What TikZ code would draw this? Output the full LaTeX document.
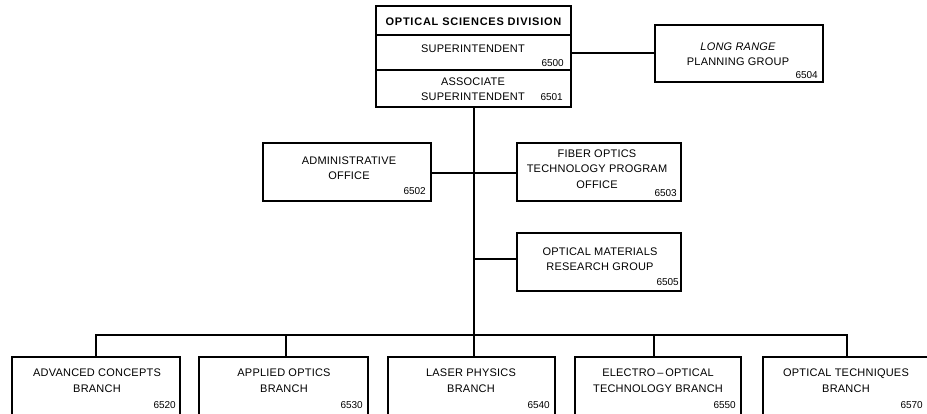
\documentclass[tikz,border=0pt]{standalone}
\usepackage{fontspec}
\setmainfont{Liberation Sans}
\usetikzlibrary{fit}
\begin{document}
\begin{tikzpicture}[x=1pt,y=-1pt,
  box/.style={draw=black, line width=1.6pt, inner sep=0pt, fill=none},
  lbl/.style={inner sep=0pt, align=center, font=\fontsize{11}{15.5}\selectfont\addfontfeatures{LetterSpace=2}},
  num/.style={inner sep=0pt, anchor=east, font=\fontsize{10}{12}\selectfont},
  conn/.style={line width=2.7pt}]
\useasboundingbox (0,0) rectangle (927,413);

% top box
\node[box, fit={(376,6)(571,107)}] (top) {};
\node[box, fit={(376,6)(571,35)}] (title) {};
\node[box, fit={(376,35)(571,70)}] (sup) {};
\node[box, fit={(376,70)(571,107)}] (asup) {};
\node[lbl, font=\fontsize{11}{14}\selectfont\bfseries\addfontfeatures{LetterSpace=7}] (titletxt) at (473.5,21.5) {OPTICAL SCIENCES DIVISION};
\node[lbl] (suptxt) at (473,49) {SUPERINTENDENT};
\node[num] (n6500) at (564,63) {6500};
\node[lbl] (asuptxt) at (473,89) {ASSOCIATE\\SUPERINTENDENT};
\node[num] (n6501) at (563,97.5) {6501};

% long range planning
\node[box, fit={(655,25)(823,82)}] (lr) {};
\node[lbl] (lrtxt) at (738,54) {\itshape LONG RANGE\\PLANNING GROUP};
\node[num] (n6504) at (818,75) {6504};

% administrative office
\node[box, fit={(263,143)(431,201)}] (adm) {};
\node[lbl] (admtxt) at (349,168) {ADMINISTRATIVE\\OFFICE};
\node[num] (n6502) at (426,191) {6502};

% fiber optics
\node[box, fit={(517,143)(681,201)}] (fib) {};
\node[lbl] (fibtxt) at (597,169) {FIBER OPTICS\\TECHNOLOGY PROGRAM\\OFFICE};
\node[num] (n6503) at (677,193) {6503};

% optical materials
\node[box, fit={(517,233)(681,291)}] (mat) {};
\node[lbl] (mattxt) at (600,259) {OPTICAL MATERIALS\\RESEARCH GROUP};
\node[num] (n6505) at (679,282) {6505};

% branches
\node[box, fit={(12,357)(180,416)}] (b1) {};
\node[lbl] (b1txt) at (97,380.5) {ADVANCED CONCEPTS\\BRANCH};
\node[num] (n6520) at (176,405) {6520};

\node[box, fit={(199,357)(368,416)}] (b2) {};
\node[lbl] (b2txt) at (284,380.5) {APPLIED OPTICS\\BRANCH};
\node[num] (n6530) at (363,405) {6530};

\node[box, fit={(388,357)(555,416)}] (b3) {};
\node[lbl] (b3txt) at (471,380.5) {LASER PHYSICS\\BRANCH};
\node[num] (n6540) at (550,405) {6540};

\node[box, fit={(575,357)(741,416)}] (b4) {};
\node[lbl] (b4txt) at (658,380.5) {ELECTRO\,--\,OPTICAL\\TECHNOLOGY BRANCH};
\node[num] (n6550) at (736,405) {6550};

\node[box, fit={(763,357)(932,416)}] (b5) {};
\node[lbl] (b5txt) at (846,380.5) {OPTICAL TECHNIQUES\\BRANCH};
\node[num] (n6570) at (923,405) {6570};

% connectors
\coordinate (trunk) at (474,107);
\coordinate (bus) at (474,335);
\coordinate (busL) at (96,335);
\coordinate (busR) at (847,335);
\draw[conn] (sup.east |- 0,53) -- (lr.west |- 0,53);
\draw[conn] (top.south -| trunk) -- (bus);
\draw[conn] (adm.east |- 0,173) -- (fib.west |- 0,173);
\draw[conn] (trunk |- 0,259) -- (mat.west |- 0,259);
\draw[conn, line cap=rect] (busL) -- (busR);
\draw[conn] (busL) -- (b1.north -| busL);
\draw[conn] (286,335) -- (b2.north -| 286,0);
\draw[conn] (bus) -- (b3.north -| bus);
\draw[conn] (654,335) -- (b4.north -| 654,0);
\draw[conn] (busR) -- (b5.north -| busR);
\end{tikzpicture}
\end{document}
